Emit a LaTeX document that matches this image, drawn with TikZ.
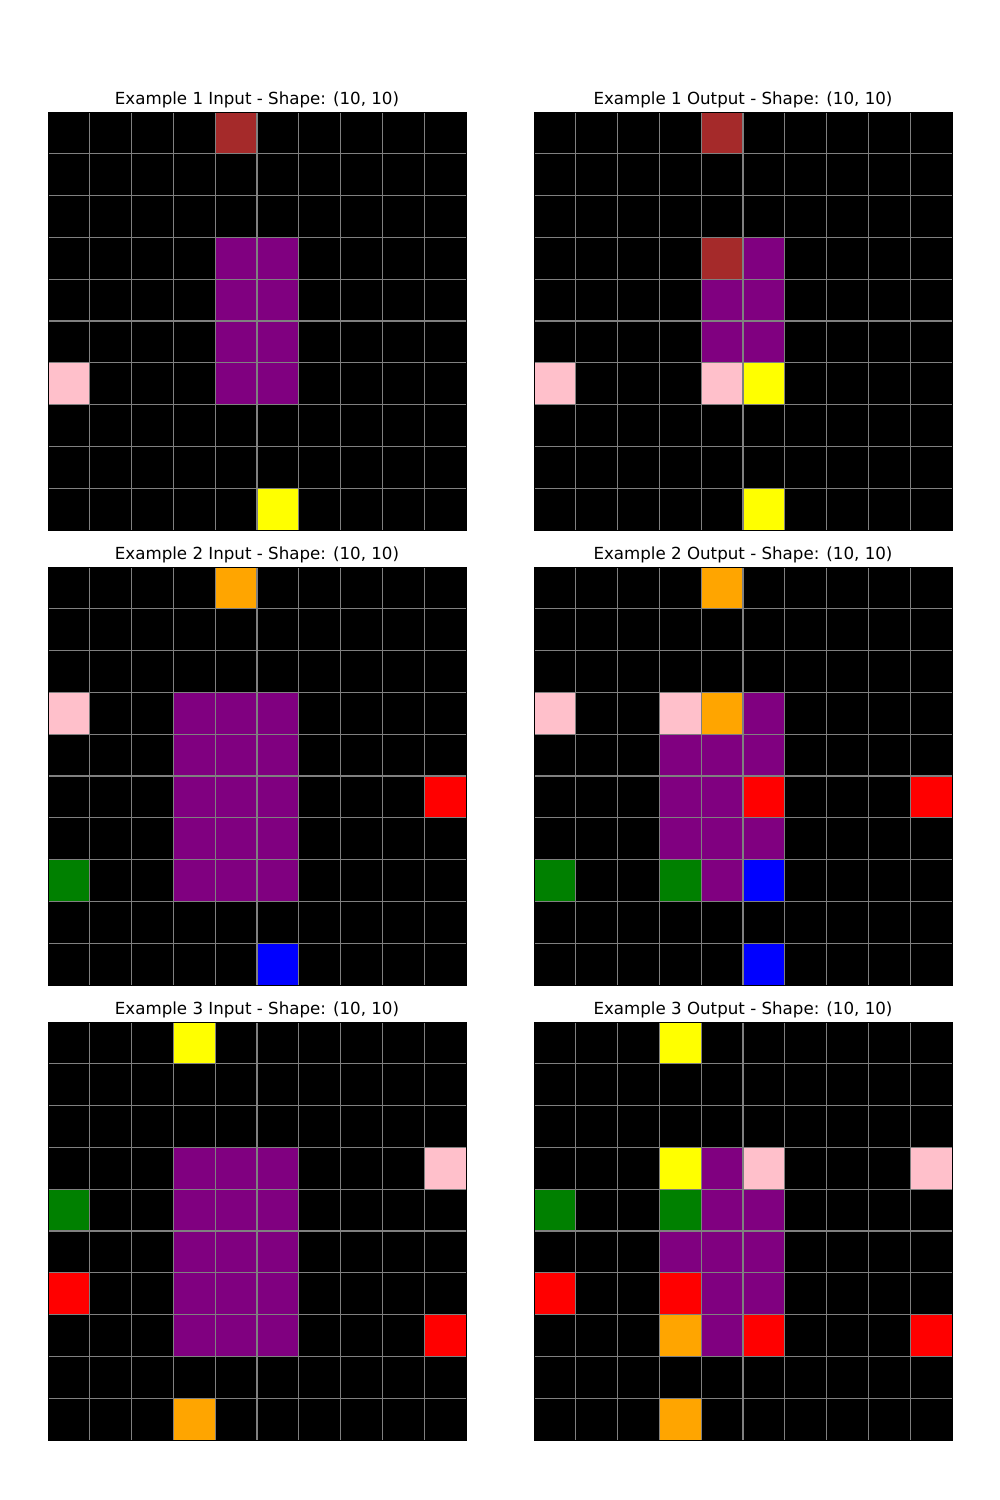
\documentclass[tikz,border=0pt]{standalone}
\usepackage{fontspec}
\setmainfont{DejaVu Sans}
\usepackage{tikz}
\usepackage{xcolor}
\usetikzlibrary{positioning}
\definecolor{arcbrown}{RGB}{165,42,42}
\definecolor{arcpurple}{RGB}{128,0,128}
\definecolor{arcpink}{RGB}{255,192,203}
\definecolor{arcyellow}{RGB}{255,255,0}
\definecolor{arcorange}{RGB}{255,165,0}
\definecolor{arcred}{RGB}{255,0,0}
\definecolor{arcgreen}{RGB}{0,128,0}
\definecolor{arcblue}{RGB}{0,0,255}
\definecolor{gridgray}{RGB}{128,128,128}

% one 10x10 grid: name, left, top, title, cells (col/row/colour)
\newcommand{\arcgrid}[5]{%
  \begin{scope}[shift={(#2,#3)}]
    \fill[black](0,0) rectangle (418,418);
    \foreach \c/\r/\col in {#5}
      \fill[\col](\c*41.8,\r*41.8) rectangle ++(41.8,41.8);
    \foreach \i in {1,...,9}{
      \draw[gridline](\i*41.8,0)--++(0,418);
      \draw[gridline](0,\i*41.8)--++(418,0);}
    \draw[spine](0,0) rectangle (418,418);
    \node[gtitle](#1) at (209,-8){#4};
  \end{scope}}

\begin{document}
\begin{tikzpicture}[x=0.72pt,y=-0.72pt,
  gridline/.style={draw=gridgray,line width=0.8pt},
  spine/.style={draw=black,line width=0.6pt},
  gtitle/.style={anchor=base,font=\fontsize{12pt}{14pt}\selectfont,inner sep=0pt}]
  \useasboundingbox[fill=white](0,0) rectangle (1000,1500);
  % example 1
  \arcgrid{in1}{48}{112}{Example 1 Input - Shape: (10, 10)}
    {4/0/arcbrown,4/3/arcpurple,5/3/arcpurple,4/4/arcpurple,5/4/arcpurple,
     4/5/arcpurple,5/5/arcpurple,4/6/arcpurple,5/6/arcpurple,0/6/arcpink,
     5/9/arcyellow}
  \arcgrid{out1}{534}{112}{Example 1 Output - Shape: (10, 10)}
    {4/0/arcbrown,4/3/arcbrown,5/3/arcpurple,4/4/arcpurple,5/4/arcpurple,
     4/5/arcpurple,5/5/arcpurple,4/6/arcpink,5/6/arcyellow,0/6/arcpink,
     5/9/arcyellow}
  % example 2
  \arcgrid{in2}{48}{567}{Example 2 Input - Shape: (10, 10)}
    {4/0/arcorange,0/3/arcpink,3/3/arcpurple,4/3/arcpurple,5/3/arcpurple,
     3/4/arcpurple,4/4/arcpurple,5/4/arcpurple,3/5/arcpurple,4/5/arcpurple,
     5/5/arcpurple,9/5/arcred,3/6/arcpurple,4/6/arcpurple,5/6/arcpurple,
     0/7/arcgreen,3/7/arcpurple,4/7/arcpurple,5/7/arcpurple,5/9/arcblue}
  \arcgrid{out2}{534}{567}{Example 2 Output - Shape: (10, 10)}
    {4/0/arcorange,0/3/arcpink,3/3/arcpink,4/3/arcorange,5/3/arcpurple,
     3/4/arcpurple,4/4/arcpurple,5/4/arcpurple,3/5/arcpurple,4/5/arcpurple,
     5/5/arcred,9/5/arcred,3/6/arcpurple,4/6/arcpurple,5/6/arcpurple,
     0/7/arcgreen,3/7/arcgreen,4/7/arcpurple,5/7/arcblue,5/9/arcblue}
  % example 3
  \arcgrid{in3}{48}{1022}{Example 3 Input - Shape: (10, 10)}
    {3/0/arcyellow,3/3/arcpurple,4/3/arcpurple,5/3/arcpurple,9/3/arcpink,
     0/4/arcgreen,3/4/arcpurple,4/4/arcpurple,5/4/arcpurple,
     3/5/arcpurple,4/5/arcpurple,5/5/arcpurple,
     0/6/arcred,3/6/arcpurple,4/6/arcpurple,5/6/arcpurple,
     3/7/arcpurple,4/7/arcpurple,5/7/arcpurple,9/7/arcred,3/9/arcorange}
  \arcgrid{out3}{534}{1022}{Example 3 Output - Shape: (10, 10)}
    {3/0/arcyellow,3/3/arcyellow,4/3/arcpurple,5/3/arcpink,9/3/arcpink,
     0/4/arcgreen,3/4/arcgreen,4/4/arcpurple,5/4/arcpurple,
     3/5/arcpurple,4/5/arcpurple,5/5/arcpurple,
     0/6/arcred,3/6/arcred,4/6/arcpurple,5/6/arcpurple,
     3/7/arcorange,4/7/arcpurple,5/7/arcred,9/7/arcred,3/9/arcorange}
\end{tikzpicture}
\end{document}
